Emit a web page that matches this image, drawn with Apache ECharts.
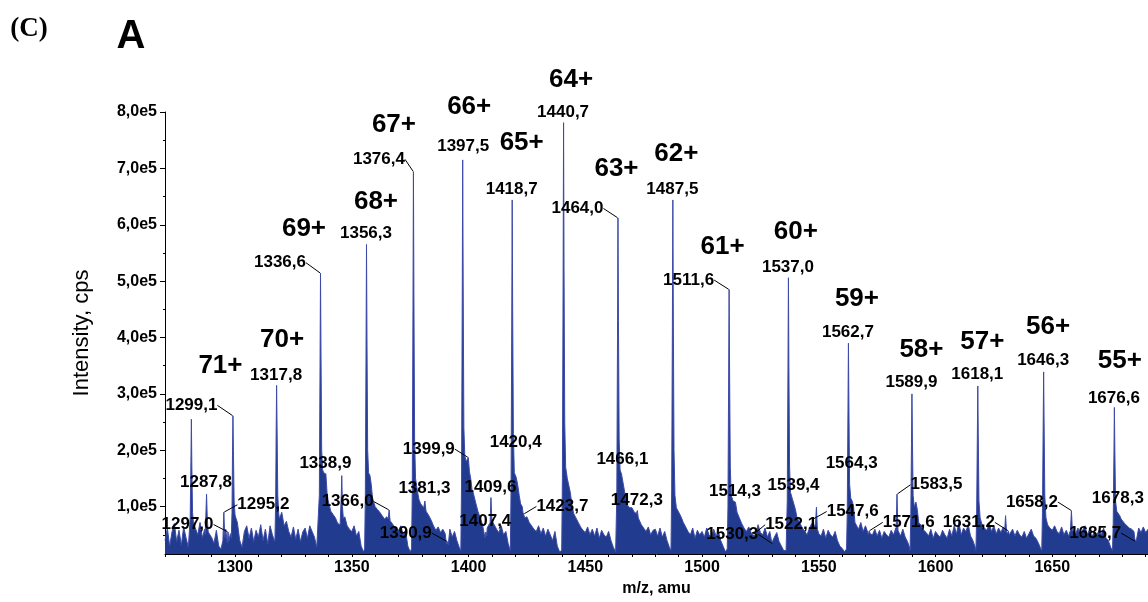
<!DOCTYPE html>
<html><head><meta charset="utf-8">
<script src="https://cdn.jsdelivr.net/npm/echarts@6/dist/echarts.min.js"></script>
<style>html,body{margin:0;padding:0;background:#fff}#c{width:1148px;height:602px}</style>
</head><body><div id="c"></div>
<script>
// ---------- DATA ----------
const mzStart = 1270; // first m/z of the noise trace (1 amu steps)
// background noise, kcps, m/z 1270 .. 1691
const noiseK = [
 40,62,30,55,70,38,58,32,64,45,
 28,18,70,62,50,72,45,60,60,55,
 45,35,58,30,25,48,60,34,52,40,
 80,72,40,28,56,66,44,62,38,58,
 46,68,40,60,34,66,50,38,85,78,
 90,66,74,56,46,64,42,60,38,55,
 62,44,66,56,46,28,22,150,160,120,
 110,92,86,80,70,68,80,82,66,60,
 56,66,48,56,30,20,20,150,140,115,
 100,95,90,84,78,82,88,72,66,62,
 58,66,50,58,30,20,20,140,120,105,
 105,100,92,84,76,66,58,64,54,60,
 52,46,60,46,56,40,28,22,190,180,
 165,145,125,108,92,80,68,55,62,70,
 80,68,60,54,66,50,56,34,20,20,
 150,140,115,100,88,82,72,66,60,56,
 66,52,62,48,60,50,40,56,30,20,
 20,150,150,149,105,88,80,72,64,58,
 54,64,50,60,48,62,44,58,50,46,
 56,40,28,20,20,160,155,120,105,98,
 98,90,95,78,68,62,56,64,50,58,
 60,48,62,46,56,40,28,20,20,95,
 92,82,72,64,56,50,62,44,58,50,
 56,46,62,50,44,60,48,56,40,30,
 20,20,150,110,108,90,80,70,62,56,
 64,54,60,48,68,54,50,62,46,56,
 40,46,54,38,30,22,22,20,115,117,
 95,82,70,62,56,50,62,70,78,85,
 52,48,60,44,58,50,46,56,40,30,
 26,20,22,115,110,100,70,60,72,56,
 66,54,62,50,60,48,58,44,56,50,
 46,58,50,62,56,48,60,46,38,26,
 22,105,98,72,66,58,54,48,60,44,
 56,50,46,58,50,44,60,48,66,52,
 72,50,62,56,68,48,40,28,20,78,
 66,64,58,70,56,66,52,62,54,64,
 70,58,52,60,48,58,50,46,56,44,
 52,60,48,44,36,26,22,78,68,62,
 58,66,56,52,64,50,58,48,70,56,
 52,62,48,58,66,50,60,46,56,48,
 58,50,62,44,40,28,20,90,90,84,
 78,70,66,62,60,56,48,62,54,64,
 54,60
];
// peak profiles [m/z, kcps]
const peakProfiles = [
 [[1280.4,30],[1280.8,80],[1281.1,180],[1281.3,255],[1281.5,170],[1281.8,90],[1282.2,70]],
 [[1287.2,50],[1287.5,85],[1287.8,122],[1288.1,80],[1288.5,55]],
 [[1294.8,40],[1295.2,90],[1295.6,45]],
 [[1296.7,36],[1297.0,55],[1297.3,38]],
 [[1298.4,45],[1298.7,90],[1298.9,190],[1299.1,261],[1299.3,200],[1299.6,110],[1300.0,85],[1300.5,78]],
 [[1317.1,45],[1317.4,110],[1317.6,230],[1317.8,315],[1318.0,240],[1318.3,120],[1318.7,88]],
 [[1335.8,30],[1336.1,120],[1336.4,350],[1336.6,514],[1336.8,380],[1337.1,200],[1337.5,165],[1338.0,160],[1338.9,158],[1339.4,125],[1339.8,112]],
 [[1345.2,70],[1345.5,120],[1345.7,155],[1346.0,100],[1346.4,78]],
 [[1355.5,25],[1355.8,120],[1356.1,380],[1356.3,565],[1356.5,400],[1356.8,200],[1357.2,160],[1357.8,155],[1358.3,140],[1358.9,115]],
 [[1365.6,78],[1366.0,94],[1366.4,75]],
 [[1375.6,25],[1375.9,130],[1376.2,450],[1376.4,694],[1376.6,480],[1376.9,220],[1377.3,150],[1378.0,130],[1378.8,112],[1379.5,105]],
 [[1380.8,98],[1381.3,110],[1381.8,92]],
 [[1390.5,34],[1390.9,38],[1391.3,32]],
 [[1396.7,22],[1397.0,140],[1397.3,470],[1397.5,715],[1397.7,500],[1398.0,240],[1398.4,190],[1399.0,180],[1399.9,187],[1400.4,162],[1401.0,148],[1401.5,130]],
 [[1407.0,45],[1407.4,55],[1407.8,48]],
 [[1409.2,66],[1409.6,116],[1410.0,75]],
 [[1417.9,22],[1418.2,130],[1418.5,420],[1418.7,644],[1418.9,450],[1419.2,230],[1419.6,160],[1420.4,152],[1421.0,140],[1421.7,120],[1422.3,105]],
 [[1423.3,90],[1423.7,87],[1424.1,80]],
 [[1439.9,22],[1440.2,150],[1440.5,500],[1440.7,781],[1440.9,520],[1441.2,250],[1441.6,170],[1442.3,150],[1443.0,149],[1443.6,125],[1444.2,105]],
 [[1463.2,22],[1463.5,120],[1463.8,400],[1464.0,612],[1464.2,430],[1464.5,220],[1464.9,165],[1465.5,158],[1466.1,155],[1466.7,130],[1467.4,112],[1468.2,102]],
 [[1471.9,88],[1472.3,93],[1472.7,80]],
 [[1486.7,22],[1487.0,130],[1487.3,420],[1487.5,644],[1487.7,440],[1488.0,200],[1488.4,120],[1489.0,98],[1489.8,92]],
 [[1510.8,25],[1511.1,100],[1511.4,330],[1511.6,485],[1511.8,340],[1512.1,170],[1512.5,120],[1513.3,110],[1514.3,108],[1515.0,90]],
 [[1521.7,50],[1522.1,51],[1522.5,48]],
 [[1529.9,36],[1530.3,34],[1530.7,38]],
 [[1536.2,25],[1536.5,110],[1536.8,340],[1537.0,506],[1537.2,350],[1537.5,170],[1537.9,125],[1538.6,115],[1539.4,117],[1540.0,95],[1540.6,82]],
 [[1547.2,60],[1547.6,78],[1548.0,62],[1548.6,70],[1549.0,99],[1549.4,60]],
 [[1561.9,25],[1562.2,90],[1562.5,270],[1562.7,390],[1562.9,280],[1563.2,140],[1563.7,115],[1564.3,110],[1564.9,100],[1565.5,72]],
 [[1571.2,50],[1571.6,57],[1572.0,52]],
 [[1583.1,55],[1583.5,122],[1583.9,58]],
 [[1589.1,22],[1589.4,80],[1589.7,210],[1589.9,300],[1590.1,220],[1590.4,120],[1590.9,100],[1591.6,108],[1592.2,95],[1592.8,72]],
 [[1617.3,22],[1617.6,80],[1617.9,220],[1618.1,314],[1618.3,230],[1618.6,110],[1619.1,80],[1619.8,70],[1620.4,64]],
 [[1629.6,56],[1630.0,84],[1630.4,56],[1630.8,52],[1631.2,57],[1631.6,50]],
 [[1645.5,22],[1645.8,90],[1646.1,240],[1646.3,339],[1646.5,250],[1646.8,120],[1647.3,80],[1648.0,68]],
 [[1657.8,58],[1658.2,93],[1658.6,58]],
 [[1675.8,22],[1676.1,70],[1676.4,190],[1676.6,276],[1676.8,200],[1677.1,110],[1677.6,92],[1678.3,90],[1678.9,84],[1679.5,78]],
 [[1685.3,44],[1685.7,38],[1686.1,42]]
];
// labelled m/z values
const numLabelMz = [1287.8,1297.0,1295.2,1299.1,1317.8,1336.6,1338.9,1356.3,1366.0,1376.4,1381.3,1390.9,
 1397.5,1399.9,1407.4,1409.6,1418.7,1420.4,1423.7,1440.7,1464.0,1466.1,1472.3,1487.5,1511.6,1514.3,
 1522.1,1530.3,1537.0,1539.4,1547.6,1562.7,1564.3,1571.6,1583.5,1589.9,1618.1,1631.2,1646.3,1658.2,
 1676.6,1678.3,1685.7];
// charge states and the peak each belongs to
const chargeNames = ['71+','70+','69+','68+','67+','66+','65+','64+','63+','62+','61+','60+','59+','58+','57+','56+','55+'];
const chargePeakMz = [1299.1,1317.8,1336.6,1356.3,1376.4,1397.5,1418.7,1440.7,1464.0,1487.5,1511.6,1537.0,1562.7,1589.9,1618.1,1646.3,1676.6];
const xLabels = [1300,1350,1400,1450,1500,1550,1600,1650];
const yLabels = [100000,200000,300000,400000,500000,600000,700000,800000];

// ---------- LAYOUT (pixel offsets of text from its peak, leader flag) ----------
const numLabelLayout = [
 [0,-11,0],[-40,-7,1],[40,-7,1],[-41,-10,1],[0,-10,0],[-40,-10,1],[0,-10,0],[0,-11,0],[-41,-8,1],[-34,-12,1],[0,-12,0],[-41,-8,1],
 [1,-13,0],[-39,-8,1],[0,-10,0],[0,-10,0],[0,-10,0],[0,-35,0],[39,-7,1],[0,-10,0],[-40,-9,1],[0,-16,0],[0,-10,0],[0,-10,0],[-40,-9,1],[0,-10,0],
 [38,-9,1],[-40,-9,1],[0,-10,0],[0,-11,0],[40,-7,1],[0,-10,0],[0,-37,0],[40,-8,1],[40,-9,1],[0,-11,0],[0,-11,0],[-39,-8,1],[0,-11,0],[-39,-8,1],
 [0,-9,0],[0,-13,0],[-40,-8,1]
];
const chargeLayout = [[-12,-50],[6,-45],[-16,-44],[10,-42],[-19,-46],[7,-53],[10,-57],[8,-42],[-1,-49],[4,-46],[-6,-42],[8,-45],[9,-44],[10,-44],[5,-44],[5,-45],[6,-46]];

// ---------- BUILD ----------
const spans = peakProfiles.map(p => [p[0][0], p[p.length-1][0]]);
const pts = [];
noiseK.forEach((v,i) => { const mz = mzStart + i; if (!spans.some(s => mz >= s[0] && mz <= s[1])) pts.push([mz, v*1000]); });
peakProfiles.forEach(p => p.forEach(q => pts.push([q[0], q[1]*1000])));
pts.sort((a,b) => a[0]-b[0]);
const lookup = mz => { const p = pts.find(q => Math.abs(q[0]-mz) < 1e-6); return p ? p[1] : 0; };
const fmt = mz => mz.toFixed(1).replace('.', ',');

const FONT = "'Liberation Sans', Arial, Helvetica, sans-serif";
const leaderItems = [], plainItems = [], leaderLay = [], plainLay = [];
numLabelMz.forEach((mz,i) => {
  const item = {value:[mz, lookup(mz)], name: fmt(mz)};
  if (numLabelLayout[i][2]) { leaderItems.push(item); leaderLay.push(numLabelLayout[i]); }
  else { plainItems.push(item); plainLay.push(numLabelLayout[i]); }
});
const chargeItems = chargeNames.map((n,i) => ({value:[chargePeakMz[i], lookup(chargePeakMz[i])], name:n}));

const baseLabel = {show:true, position:[0,0], align:'center', verticalAlign:'middle', formatter:p => p.name,
  color:'#000', opacity:1, textBorderWidth:0, fontFamily:FONT, fontWeight:'bold'};
const numLabel = Object.assign({}, baseLabel, {fontSize:17});
const chargeLabel = Object.assign({}, baseLabel, {fontSize:26});
const hidden = {color:'rgba(0,0,0,0)'};
const chart = echarts.init(document.getElementById('c'), null, {renderer:'canvas'});
chart.setOption({
  animation:false,
  backgroundColor:'#fff',
  graphic:[
    {type:'text', x:29, y:29, style:{text:'(C)', font:"bold 27px 'Liberation Serif', 'Times New Roman', serif", fill:'#000', align:'center', verticalAlign:'middle'}},
    {type:'text', x:131, y:37, style:{text:'A', font:"bold 40px "+FONT, fill:'#000', align:'center', verticalAlign:'middle'}}
  ],
  grid:{left:165, right:0, top:112, bottom:47, containLabel:false},
  xAxis:{type:'value', min:1270, max:1691,
    axisLine:{lineStyle:{color:'#000', width:1}},
    axisTick:{length:3, lineStyle:{color:'#000'}, customValues:Array.from({length:43},(_,i)=>1270+i*10)},
    axisLabel:{customValues:xLabels, formatter:v=>String(v), color:'#000', fontFamily:FONT, fontWeight:'bold', fontSize:16, margin:6},
    splitLine:{show:false},
    name:'m/z, amu', nameLocation:'middle', nameGap:27,
    nameTextStyle:{color:'#000', fontFamily:FONT, fontWeight:'bold', fontSize:16}
  },
  yAxis:[{type:'value', min:16000, max:800000,
    axisLine:{show:true, lineStyle:{color:'#000', width:1}},
    axisTick:{show:true, length:5, lineStyle:{color:'#000'}, customValues:yLabels},
    axisLabel:{customValues:yLabels, formatter:v=>(v/1e5).toFixed(1).replace('.',',')+'e5', color:'#000', fontFamily:FONT, fontWeight:'bold', fontSize:16, margin:8},
    splitLine:{show:false},
    name:'Intensity, cps', nameLocation:'middle', nameRotate:90, nameGap:72,
    nameTextStyle:{color:'#000', fontFamily:FONT, fontSize:22}
  },{type:'value', min:16000, max:800000, position:'left',
    axisLine:{show:false}, axisLabel:{show:false}, splitLine:{show:false},
    axisTick:{show:true, length:2, lineStyle:{color:'#000'}, customValues:[50000,150000,250000,350000,450000,550000,650000,750000]}
  }],
  series:[
    {type:'line', data:pts, showSymbol:false, symbol:'none', sampling:false,
     lineStyle:{color:'#3c4aa8', width:1}, areaStyle:{color:'#213c8f', opacity:1, origin:'start'}, z:2},
    {type:'scatter', data:plainItems, symbol:'circle', symbolSize:1, itemStyle:hidden, z:5,
     label:numLabel, labelLayout:p => ({dx:plainLay[p.dataIndex][0], dy:plainLay[p.dataIndex][1]})},
    {type:'scatter', data:leaderItems, symbol:'circle', symbolSize:1, itemStyle:hidden, z:5,
     label:numLabel, labelLine:{show:true, lineStyle:{color:'#000', width:1}},
     labelLayout:p => ({dx:leaderLay[p.dataIndex][0], dy:leaderLay[p.dataIndex][1]})},
    {type:'scatter', data:chargeItems, symbol:'circle', symbolSize:1, itemStyle:hidden, z:5, clip:false,
     label:chargeLabel,
     labelLayout:p => ({dx:chargeLayout[p.dataIndex][0], dy:chargeLayout[p.dataIndex][1]})}
  ]
});
</script></body></html>
